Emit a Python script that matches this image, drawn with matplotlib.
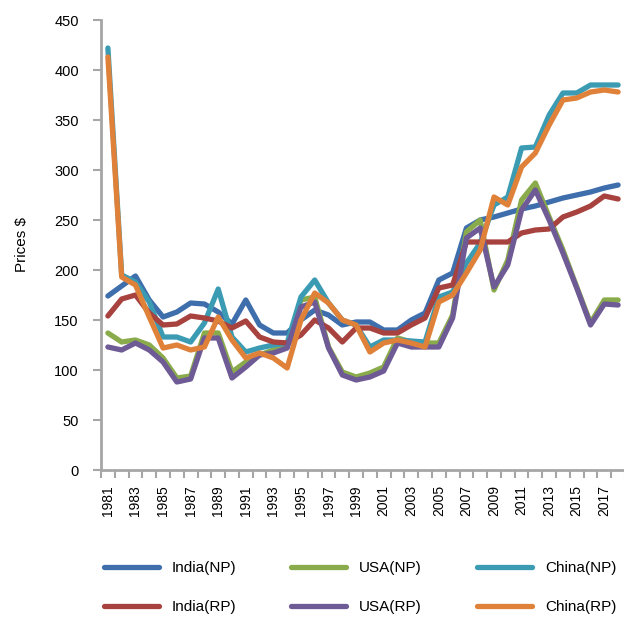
import numpy as np
import matplotlib
matplotlib.use("Agg")
import matplotlib.pyplot as plt

years = list(range(1981, 2019))

india_np = [174, 184, 194, 170, 153, 158, 167, 166, 158, 146, 170, 145, 137, 137, 150, 160, 155, 145, 148, 148,
            140, 140, 150, 157, 190, 197, 242, 250, 253, 257, 261, 264, 268, 272, 275, 278, 282, 285]
usa_np = [137, 128, 130, 125, 112, 92, 94, 137, 137, 98, 108, 115, 120, 123, 170, 173, 123, 98, 93, 97,
          103, 132, 128, 127, 127, 155, 238, 250, 180, 210, 270, 287, 253, 220, 183, 147, 170, 170]
china_np = [422, 195, 188, 168, 133, 133, 128, 147, 181, 133, 118, 122, 125, 127, 173, 190, 167, 150, 145, 123,
            130, 130, 129, 128, 173, 178, 207, 227, 265, 273, 322, 323, 355, 377, 377, 385, 385, 385]
india_rp = [154, 171, 175, 157, 145, 146, 154, 152, 149, 142, 149, 133, 128, 127, 135, 150, 142, 128, 142, 142,
            137, 137, 145, 152, 182, 185, 228, 228, 228, 228, 237, 240, 241, 253, 258, 264, 274, 271]
usa_rp = [123, 120, 127, 120, 108, 88, 91, 132, 132, 92, 103, 115, 117, 122, 163, 168, 122, 95, 90, 93,
          99, 127, 123, 123, 123, 152, 232, 242, 183, 205, 260, 280, 250, 217, 182, 145, 166, 165]
china_rp = [413, 193, 185, 153, 122, 125, 120, 123, 153, 130, 112, 117, 112, 102, 150, 177, 167, 150, 145, 118,
            127, 130, 127, 123, 168, 175, 197, 220, 273, 265, 303, 317, 345, 370, 372, 378, 380, 378]

series = [
    ("India(NP)", india_np, "#3e6eab"),
    ("USA(NP)", usa_np, "#8aab4b"),
    ("China(NP)", china_np, "#3b9bb2"),
    ("India(RP)", india_rp, "#a8423f"),
    ("USA(RP)", usa_rp, "#6e5a95"),
    ("China(RP)", china_rp, "#e0813a"),
]

plt.rcParams["font.family"] = ["Liberation Sans", "DejaVu Sans"]

fig = plt.figure(figsize=(6.24, 6.17), dpi=100)
ax = fig.add_axes([101 / 624, 1 - 470 / 617, 524 / 624, 450 / 617])

x = np.arange(len(years))
lines = {}
for name, vals, col in series:
    lines[name], = ax.plot(x, vals, color=col, lw=3.8, label=name,
                           solid_capstyle="round", solid_joinstyle="round")

ax.set_xlim(-0.5, len(years) - 0.5)
ax.set_ylim(0, 450)
ax.set_yticks(range(0, 451, 50))
ax.set_xticks(x[::2])
ax.set_xticklabels([str(y) for y in years[::2]], rotation=90)
ax.set_xticks(np.arange(-0.5, len(years), 1), minor=True)
ax.tick_params(axis="x", which="major", length=0, pad=11, labelsize=10)
ax.tick_params(axis="x", which="minor", length=6, width=1.5, color="#a6a6a6")
ax.tick_params(axis="y", length=6, width=1.5, color="#a6a6a6", labelsize=10.5, pad=10)

for s in ["top", "right"]:
    ax.spines[s].set_visible(False)
for s in ["left", "bottom"]:
    ax.spines[s].set_color("#a6a6a6")
    ax.spines[s].set_linewidth(2)

ax.set_ylabel("Prices $", fontsize=11, labelpad=18)

# legend filled column by column, so order it to read row-wise
order = ["India(NP)", "India(RP)", "USA(NP)", "USA(RP)", "China(NP)", "China(RP)"]
ax.legend([lines[n] for n in order], order, loc="upper left",
          bbox_to_anchor=(-0.021, -0.172), ncol=3, frameon=False,
          fontsize=11, handlelength=3.6, handletextpad=0.85, columnspacing=3.6,
          labelspacing=1.63)

fig.savefig("out.png", dpi=100)
